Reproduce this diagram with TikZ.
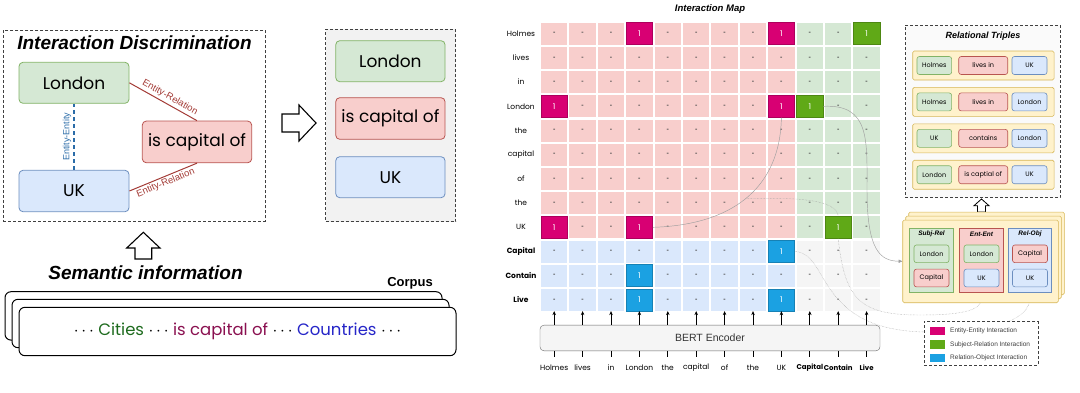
\documentclass[tikz,border=0pt]{standalone}
\usepackage{fontspec}
\setmainfont{Liberation Sans}
\newfontfamily\comic{Poppins}
\usetikzlibrary{arrows.meta}
% draw.io palette
\definecolor{grfill}{HTML}{D5E8D4}
\definecolor{grline}{HTML}{82B366}
\definecolor{rdfill}{HTML}{F8CECC}
\definecolor{rdline}{HTML}{B85450}
\definecolor{blfill}{HTML}{DAE8FC}
\definecolor{blline}{HTML}{6C8EBF}
\definecolor{ylfill}{HTML}{FFF2CC}
\definecolor{ylline}{HTML}{D6B656}
\definecolor{eecol}{HTML}{D80073}
\definecolor{srcol}{HTML}{60A917}
\definecolor{rocol}{HTML}{1BA1E2}
\definecolor{erline}{HTML}{A33B36}
\definecolor{eeline}{HTML}{2B6CA8}
\definecolor{cellgr}{HTML}{F5F5F5}
\begin{document}
\begin{tikzpicture}[x=1pt,y=-1pt,
  gcol/.style={draw=grline,fill=grfill},
  rcol/.style={draw=rdline,fill=rdfill},
  bcol/.style={draw=blline,fill=blfill},
  bigbox/.style={rounded corners=4pt,line width=0.8pt,inner sep=0pt,font=\comic\fontsize{17}{19}\selectfont},
  tbox/.style={rounded corners=2.5pt,line width=0.6pt,inner sep=0pt,font=\comic\fontsize{6.5}{8}\selectfont},
  ybox/.style={rounded corners=1.5pt,line width=0.6pt,draw=ylline,fill=ylfill,inner sep=0pt},
  dbox/.style={draw=black!75,dash pattern=on 3pt off 2pt,line width=0.8pt,inner sep=0pt},
  ttl/.style={font=\bfseries\itshape\fontsize{19}{21}\selectfont,inner sep=0pt},
  ptl/.style={font=\bfseries\itshape\fontsize{6.5}{8}\selectfont,inner sep=0pt},
  cell/.style={minimum width=26.5pt,minimum height=22pt,inner sep=0pt,font=\bfseries\fontsize{7}{8}\selectfont,text=black!70},
  one/.style={cell,text=white,font=\comic\fontsize{8}{9}\selectfont,line width=0.6pt},
  lbl/.style={inner sep=1pt,font=\comic\fontsize{7.5}{9}\selectfont},
  con/.style={draw=gray!75,line width=0.45pt},
  conarr/.style={-{Latex[length=4pt,width=3.5pt]}},
  hollow/.style={draw=black,line width=1.1pt,fill=white,line join=miter}
]
\useasboundingbox (0,0) rectangle (1080,392);
% interaction discrimination
\node[dbox,minimum width=261.7pt,minimum height=191.7pt] (idbox) at (134.2,125.9) {};
\node[ttl] (idtl) at (134.5,42.7) {Interaction Discrimination};
\node[bigbox,gcol,minimum width=110pt,minimum height=41pt] (ldn) at (74,82.8) {London};
\node[bigbox,bcol,minimum width=110pt,minimum height=41.4pt] (uk) at (74,191) {UK};
\node[bigbox,rcol,minimum width=109.4pt,minimum height=41.7pt] (cap) at (197,141.9) {is capital of};
\draw[erline,line width=1pt] (ldn.east) -- node[pos=0.55,sloped,above,inner sep=2pt,font=\fontsize{9.5}{11}\selectfont] (erl1) {Entity-Relation} (cap.north);
\draw[erline,line width=1pt] (uk.east) -- node[midway,sloped,below,inner sep=1.5pt,font=\fontsize{9.5}{11}\selectfont] (erl2) {Entity-Relation} (cap.south);
\draw[eeline,line width=1.3pt,dash pattern=on 4pt off 3pt] (uk.north) -- node[midway,sloped,above,inner sep=2pt,font=\fontsize{9}{10}\selectfont] (eel) {Entity-Entity} (ldn.south);
% hollow arrow to the right
\draw[hollow] (282,114) -- (299,114) -- (299,105) -- (316,123) -- (299,141) -- (299,132) -- (282,132) -- cycle;
% discriminated box
\node[dbox,fill=black!5,minimum width=130pt,minimum height=192.4pt] (rgt) at (390.7,125.5) {};
\node[bigbox,gcol,minimum width=109.3pt,minimum height=41pt] (ldn2) at (390.4,61.2) {London};
\node[bigbox,rcol,minimum width=109.3pt,minimum height=41.6pt] (cap2) at (390.4,118.5) {is capital of};
\node[bigbox,bcol,minimum width=109.3pt,minimum height=41pt] (uk2) at (390.4,177.2) {UK};
% semantic information
\draw[hollow] (135,259) -- (135,248) -- (126.7,248) -- (143.3,232.3) -- (160,248) -- (151.7,248) -- (151.7,259) -- cycle;
\node[ttl] (semtl) at (145.5,272.3) {Semantic information};
% corpus stack
\node[draw,fill=white,line width=1pt,rounded corners=6pt,minimum width=437pt,minimum height=48.4pt] (corp3) at (223.5,315.9) {};
\node[draw,fill=white,line width=1pt,rounded corners=6pt,minimum width=437pt,minimum height=48.4pt] (corp2) at (230.5,323.5) {};
\node[draw,fill=white,line width=1pt,rounded corners=6pt,minimum width=437pt,minimum height=48.4pt,font=\comic\fontsize{16.5}{18}\selectfont] (corp) at (237.5,331.5)
  {$\cdots$ \textcolor[HTML]{1E6B1E}{Cities} $\cdots$ \textcolor[HTML]{8A1050}{is capital of} $\cdots$ \textcolor[HTML]{2626C8}{Countries} $\cdots$};
\node[font=\bfseries\fontsize{13}{15}\selectfont,inner sep=0pt] (corptl) at (410,283.3) {Corpus};
% interaction map
\node[font=\bfseries\itshape\fontsize{9.5}{11}\selectfont,inner sep=0pt] (maptl) at (710,9) {Interaction Map};
% cells holding a 1
\foreach \r/\c/\k in {1/4/eecol,1/9/eecol,1/12/srcol,4/1/eecol,4/9/eecol,4/10/srcol,9/1/eecol,9/4/eecol,9/11/srcol,10/9/rocol,11/4/rocol,12/4/rocol,12/9/rocol}
  {\expandafter\xdef\csname one\r-\c\endcsname{\k}}
\foreach \r in {1,...,12}{
  \foreach \c in {1,...,12}{
    \pgfmathsetmacro{\cx}{554.2+(\c-1)*28.4}
    \pgfmathsetmacro{\cy}{33.7+(\r-1)*24.2}
    \ifnum\r<10 \ifnum\c<10 \def\cf{rdfill}\else\def\cf{grfill}\fi
    \else \ifnum\c<10 \def\cf{blfill}\else\def\cf{cellgr}\fi\fi
    \ifcsname one\r-\c\endcsname
      \edef\k{\csname one\r-\c\endcsname}
      \node[one,fill=\k,draw=\k!80!black] (c-\r-\c) at (\cx,\cy) {1};
    \else
      \node[cell,fill=\cf] (c-\r-\c) at (\cx,\cy) {-};
    \fi
  }
}
\foreach \w [count=\r] in {Holmes,lives,in,London,the,capital,of,the,UK,\textbf{Capital},\textbf{Contain},\textbf{Live}}
  \node[lbl] (r-\r) at (521,{33.7+(\r-1)*24.2}) {\w};
% connecting lines
\draw[con] (c-4-9.south) .. controls (780,190) and (730,225) .. (c-9-4.east) coordinate[pos=0.5] (eemid);
\draw[con,densely dotted] (eemid) .. controls (800,197) and (836,200) .. (c-9-11.north);
\draw[con,densely dotted,conarr] (c-9-11.south) .. controls (845,300) and (860,315) .. (920,315) .. controls (965,315) and (982,310) .. (981.5,293.5);
\draw[con,conarr] (c-4-10.east) .. controls (870,104) and (867,140) .. (867,190) .. controls (867,250) and (880,261) .. (902.7,261.3);
\draw[con,densely dotted,conarr] (c-10-9.east) .. controls (830,253) and (815,330) .. (925,332) .. controls (995,332) and (1030,320) .. (1030,293.5);
% bert encoder
\node[draw=black!60,fill=cellgr,rounded corners=4pt,minimum width=340pt,minimum height=25.7pt,font=\fontsize{10.5}{12}\selectfont,text=black!80] (bert) at (710,338) {BERT Encoder};
\foreach \w [count=\c] in {Holmes,lives,in,London,the,capital,of,the,UK,{\fontsize{7}{8}\selectfont\textbf{Capital}},{\fontsize{7}{8}\selectfont\textbf{Contain}},{\fontsize{7}{8}\selectfont\textbf{Live}}}{
  \node[lbl] (w-\c) at ({554.2+(\c-1)*28.4},368) {\w};
  \draw[-{Stealth[length=4pt,width=3.5pt]},line width=0.7pt] (bert.north -| c-12-\c) -- (c-12-\c.south);
  \draw[line width=0.7pt] (bert.south -| c-12-\c) -- ++(0,6);
}
% relational triples
\node[dbox,fill=black!2,line width=0.6pt,minimum width=155pt,minimum height=172.7pt] (trip) at (982.5,111.35) {};
\node[font=\bfseries\itshape\fontsize{9}{11}\selectfont,inner sep=0pt] (triptl) at (983,35.7) {Relational Triples};
\foreach \s/\p/\o [count=\k] in {Holmes/lives in/UK,Holmes/lives in/London,UK/contains/London,London/is captial of/UK}{
  \pgfmathsetmacro{\ty}{65.5+(\k-1)*36.4}
  \node[ybox,minimum width=141.3pt,minimum height=29pt] (t-\k) at (983.4,\ty) {};
  \node[tbox,gcol,minimum width=34.7pt,minimum height=18pt] (ts-\k) at (934.3,\ty) {\s};
  \node[tbox,rcol,minimum width=49pt,minimum height=18pt] (tp-\k) at (983.2,\ty) {\p};
  \node[tbox,bcol,minimum width=35pt,minimum height=18pt] (to-\k) at (1029.5,\ty) {\o};
}
% hollow arrow up to triples
\draw[hollow,line width=0.8pt] (977.5,212) -- (977.5,205.7) -- (974,205.7) -- (981.5,199) -- (989,205.7) -- (985.5,205.7) -- (985.5,212) -- cycle;
% interaction panels
\node[ybox,minimum width=155.6pt,minimum height=82.7pt] (stk3) at (986.5,253.4) {};
\node[ybox,minimum width=155.6pt,minimum height=82.7pt] (stk2) at (983.5,257.4) {};
\node[ybox,minimum width=155.6pt,minimum height=82.7pt] (stk) at (980.5,261.4) {};
\foreach \n/\x/\pc/\t/\a/\ac/\b/\bc in {sr/931.5/gcol/Subj-Rel/London/gcol/Capital/rcol,ee/981.5/rcol/Ent-Ent/London/gcol/UK/bcol,ro/1030/bcol/Rel-Obj/Capital/rcol/UK/bcol}{
  \node[\pc,line width=0.6pt,minimum width=43.5pt,minimum height=64.7pt] (\n) at (\x,260.4) {};
  \node[ptl] (\n-t) at (\x,234) {\t};
  \node[tbox,\ac,minimum width=35pt,minimum height=17.7pt] (\n-1) at (\x,253.8) {\a};
  \node[tbox,\bc,minimum width=35pt,minimum height=17.7pt] (\n-2) at (\x,278) {\b};
}
% legend
\node[dbox,fill=white,line width=0.6pt,minimum width=114pt,minimum height=43.3pt] (leg) at (981,343.4) {};
\foreach \k/\t [count=\i] in {eecol/Entity-Entity Interaction,srcol/Subject-Relation Interaction,rocol/Relation-Object Interaction}{
  \node[fill=\k,minimum width=15pt,minimum height=8.3pt,inner sep=0pt] (lg-\i) at (937.5,{330.8+(\i-1)*13.7}) {};
  \node[anchor=west,inner sep=0pt,font=\fontsize{6.5}{8}\selectfont,text=black!75] (lt-\i) at (950,{330.8+(\i-1)*13.7}) {\t};
}
\end{tikzpicture}
\end{document}
